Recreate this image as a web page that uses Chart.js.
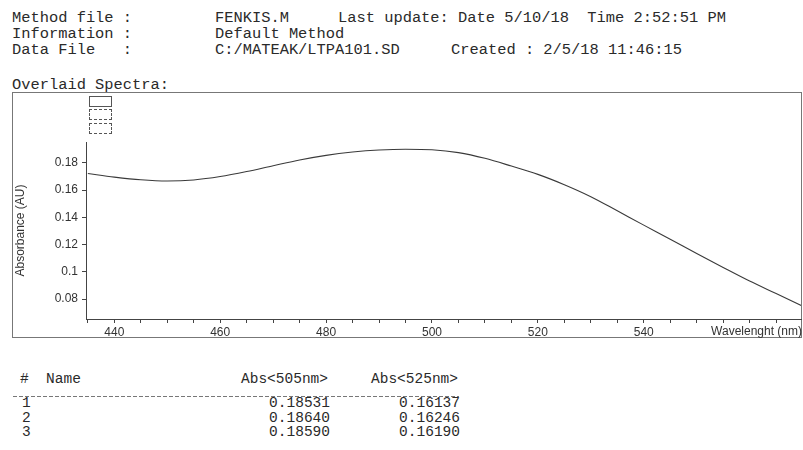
<!DOCTYPE html>
<html>
<head>
<meta charset="utf-8">
<script src="https://cdn.jsdelivr.net/npm/chart.js@4.4.1/dist/chart.umd.min.js"></script>
<style>
    body { margin: 0; width: 803px; height: 450px; background: #fff; overflow: hidden; position: relative; }
    .t { position: absolute; white-space: pre; color: #2a2a2a; }
    .hdr { font-family: "Liberation Mono", monospace; font-size: 15.4px; line-height: 16px; }
    .mono { font-family: "Liberation Mono", monospace; font-size: 14.5px; line-height: 14px; }
    .num { text-align: right; }
    #box { position: absolute; left: 12px; top: 92px; width: 788px; height: 244px; border: 1px solid #777; }
    #chart { position: absolute; left: 12px; top: 92px; }
    .leg { position: absolute; left: 89px; width: 21px; height: 9px; border: 1px solid #555; }
    .leg.dash { border-style: dashed; }
    #dashes { position: absolute; left: 13px; top: 396px; width: 446px; height: 1px;
              background: repeating-linear-gradient(to right, #777 0 4px, transparent 4px 6px); }
</style>
</head>
<body>
<div class="t hdr" style="left:12px; top:10px;">Method file :</div>
<div class="t hdr" style="left:12px; top:26px;">Information :</div>
<div class="t hdr" style="left:12px; top:42px;">Data File   :</div>
<div class="t hdr" style="left:215px; top:10px;">FENKIS.M</div>
<div class="t hdr" style="left:338px; top:10px;">Last update: Date 5/10/18  Time 2:52:51 PM</div>
<div class="t hdr" style="left:215px; top:26px;">Default Method</div>
<div class="t hdr" style="left:215px; top:42px;">C:/MATEAK/LTPA101.SD</div>
<div class="t hdr" style="left:451px; top:42px;">Created : 2/5/18 11:46:15</div>

<div class="t hdr" style="left:12px; top:77px;">Overlaid Spectra:</div>

<div id="box"></div>
<canvas id="chart" width="790" height="246"></canvas>
<div class="leg" style="top:96px;"></div>
<div class="leg dash" style="top:109px;"></div>
<div class="leg dash" style="top:123px;"></div>

<div class="t mono" style="left:20px; top:372px;">#  Name</div>
<div class="t mono num" style="left:200px; width:128px; top:372px;">Abs&lt;505nm&gt;</div>
<div class="t mono num" style="left:330px; width:128px; top:372px;">Abs&lt;525nm&gt;</div>
<div id="dashes"></div>
<div id="rows"></div>

<script>
// spectrum (nm, AU)
const wavelengths = [435, 440, 445, 450, 455, 460, 465, 470, 475, 480, 485, 490, 495, 500,
                     505, 510, 515, 520, 525, 530, 535, 540, 545, 550, 555, 560, 565, 570];
const absorbance = [0.1722, 0.1696, 0.1676, 0.1667, 0.1675, 0.1700, 0.1737, 0.1780, 0.1822, 0.1856,
                    0.1880, 0.1895, 0.1901, 0.1897, 0.1876, 0.1834, 0.1777, 0.1716, 0.1640, 0.1552,
                    0.1448, 0.1343, 0.1240, 0.1134, 0.1032, 0.0932, 0.0840, 0.0748];

// table under the chart
const sampleIds = ['1', '2', '3'];
const abs505 = ['0.18531', '0.18640', '0.18590'];
const abs525 = ['0.16137', '0.16246', '0.16190'];

const xTitle = 'Wavelenght (nm)';
const yTitle = 'Absorbance (AU)';

// table rows
const rows = document.getElementById('rows');
sampleIds.forEach((id, i) => {
    const top = 396 + i * 14.6;
    rows.innerHTML +=
        '<div class="t mono" style="left:22px; top:' + top + 'px;">' + id + '</div>' +
        '<div class="t mono num" style="left:200px; width:130px; top:' + top + 'px;">' + abs505[i] + '</div>' +
        '<div class="t mono num" style="left:330px; width:130px; top:' + top + 'px;">' + abs525[i] + '</div>';
});

// x axis title sits at the right end of the tick label row
const xTitlePlugin = {
    id: 'xTitle',
    afterDraw(chart) {
        const ctx = chart.ctx;
        ctx.save();
        ctx.font = '12px "Liberation Sans", Arial, sans-serif';
        ctx.fillStyle = '#333';
        ctx.textAlign = 'right';
        ctx.textBaseline = 'middle';
        ctx.fillText(xTitle, chart.chartArea.right + 1, chart.scales.x.top + 13);
        ctx.restore();
    }
};

const lineStyle = { borderColor: '#3a3a3a', borderWidth: 1.1, pointRadius: 0, fill: false, cubicInterpolationMode: 'monotone' };

new Chart(document.getElementById('chart').getContext('2d'), {
    type: 'line',
    data: {
        datasets: [
            Object.assign({ label: '1', data: wavelengths.map((w, i) => ({ x: w, y: absorbance[i] })) }, lineStyle)
        ]
    },
    options: {
        responsive: false,
        animation: false,
        layout: { padding: { left: 0, top: 50, right: 1, bottom: 0 } },
        plugins: { legend: { display: false }, tooltip: { enabled: false } },
        scales: {
            x: {
                type: 'linear',
                min: 434.65,
                max: 569.7,
                afterFit: (s) => { s.height = 19; },
                border: { color: '#444', width: 1 },
                grid: { drawOnChartArea: false, color: '#444', tickLength: 4 },
                ticks: {
                    stepSize: 5,
                    includeBounds: false,
                    autoSkip: false,
                    maxRotation: 0,
                    padding: 2,
                    color: '#333',
                    font: { family: '"Liberation Sans", Arial, sans-serif', size: 12 },
                    callback: (v) => (Math.round(v) % 20 === 0 && v < 560) ? String(Math.round(v)) : ''
                }
            },
            y: {
                min: 0.0653,
                max: 0.1954,
                afterFit: (s) => { s.width = 74; },
                border: { color: '#444', width: 1 },
                grid: { drawOnChartArea: false, color: '#444', tickLength: 4 },
                title: {
                    display: true,
                    text: yTitle,
                    color: '#333',
                    padding: { top: 1, bottom: 0 },
                    font: { family: '"Liberation Sans", Arial, sans-serif', size: 12 }
                },
                ticks: {
                    stepSize: 0.02,
                    includeBounds: false,
                    padding: 4,
                    color: '#333',
                    font: { family: '"Liberation Sans", Arial, sans-serif', size: 12 },
                    callback: (v) => String(+v.toFixed(2))
                }
            }
        }
    },
    plugins: [xTitlePlugin]
});
</script>
</body>
</html>
